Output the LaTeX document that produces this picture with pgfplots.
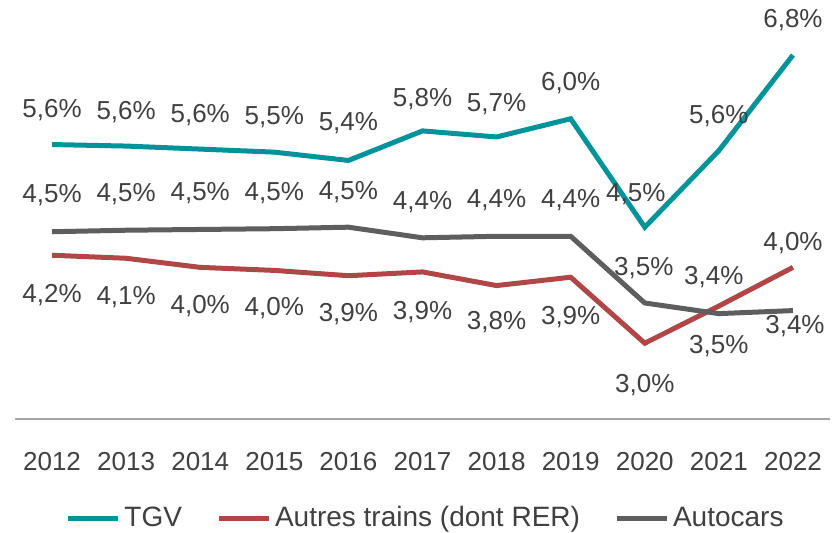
\documentclass[border=0pt]{standalone}
\usepackage{fontspec}
\setmainfont{Liberation Sans}
\usepackage{pgfplots}
\usepackage{pgfplotstable}
\pgfplotsset{compat=1.18}
\definecolor{tgv}{RGB}{0,147,154}
\definecolor{autres}{RGB}{176,70,70}
\definecolor{autocars}{RGB}{94,94,94}
\definecolor{txt}{RGB}{64,64,64}
\definecolor{axisgray}{RGB}{166,166,166}

\pgfplotstableread{
x y lab dy dx
2012 5.62 5.6 34 0
2013 5.60 5.6 34 0
2014 5.56 5.6 34 0
2015 5.52 5.5 35 0
2016 5.41 5.4 37 0
2017 5.80 5.8 32 0
2018 5.72 5.7 33 0
2019 5.96 6.0 36 0
2020 4.53 4.5 33 -9
2021 5.54 5.6 35 0
2022 6.80 6.8 35 0
}\tgvdata

\pgfplotstableread{
x y lab dy dx
2012 4.16 4.2 -40 0
2013 4.12 4.1 -39 0
2014 4.00 4.0 -39 0
2015 3.96 4.0 -38 0
2016 3.89 3.9 -38 0
2017 3.94 3.9 -40 0
2018 3.76 3.8 -37 0
2019 3.87 3.9 -40 0
2020 3.00 3.0 -42 0
2021 3.49 3.5 -40 0
2022 4.00 4.0 24 0
}\autresdata

\pgfplotstableread{
x y lab dy dx
2012 4.47 4.5 37 0
2013 4.49 4.5 36 0
2014 4.50 4.5 36 0
2015 4.51 4.5 36 0
2016 4.53 4.5 35 0
2017 4.39 4.4 36 0
2018 4.41 4.4 36 0
2019 4.41 4.4 36 0
2020 3.53 3.5 35 -1
2021 3.39 3.4 37 -5
2022 3.43 3.4 -15 2
}\autocarsdata

\begin{document}
\begin{tikzpicture}
\begin{axis}[
  scale only axis,
  width=407.5pt, height=208.5pt,
  xmin=2011.5, xmax=2022.5, ymin=2, ymax=7.5,
  axis x line*=bottom, axis y line=none,
  x axis line style={draw=axisgray, line width=0.8pt, -},
  ytick=\empty,
  xtick={2012,2013,2014,2015,2016,2017,2018,2019,2020,2021,2022},
  xticklabels={2012,2013,2014,2015,2016,2017,2018,2019,2020,2021,2022},
  major tick length=0pt,
  xticklabel style={font=\fontsize{13}{15}\selectfont, text=txt, anchor=center, yshift=-21.5pt},
  clip=false,
  /pgf/number format/assume math mode=true,
  point meta=explicit,
  nodes near coords={\pgfmathprintnumber[fixed,fixed zerofill,precision=1,use comma]{\pgfplotspointmeta}\%},
  visualization depends on={0.5*\thisrow{dy} \as \dy},
  visualization depends on={0.5*\thisrow{dx} \as \dx},
  every node near coord/.append style={font=\fontsize{13}{15}\selectfont, text=txt, anchor=center, yshift=\dy pt, xshift=\dx pt},
  legend style={at={(0.5,0)}, anchor=center, yshift=-49.5pt, xshift=2pt, draw=none,
    legend columns=3, font=\fontsize{14}{16}\selectfont, text=txt,
    /tikz/every even column/.append style={column sep=15pt}},
  legend image code/.code={\draw[#1] (0pt,0pt) -- (25pt,0pt);},
]
\addplot[tgv, line width=2.5pt] table[x=x, y=y, meta=lab]{\tgvdata};
\addlegendentry{TGV}
\addplot[autres, line width=2.5pt] table[x=x, y=y, meta=lab]{\autresdata};
\addlegendentry{Autres trains (dont RER)}
\addplot[autocars, line width=2.5pt] table[x=x, y=y, meta=lab]{\autocarsdata};
\addlegendentry{Autocars}
\end{axis}
\pgfresetboundingbox
\path[use as bounding box] (-7.5pt,-56.5pt) rectangle (409.5pt,209.5pt);
\end{tikzpicture}
\end{document}
